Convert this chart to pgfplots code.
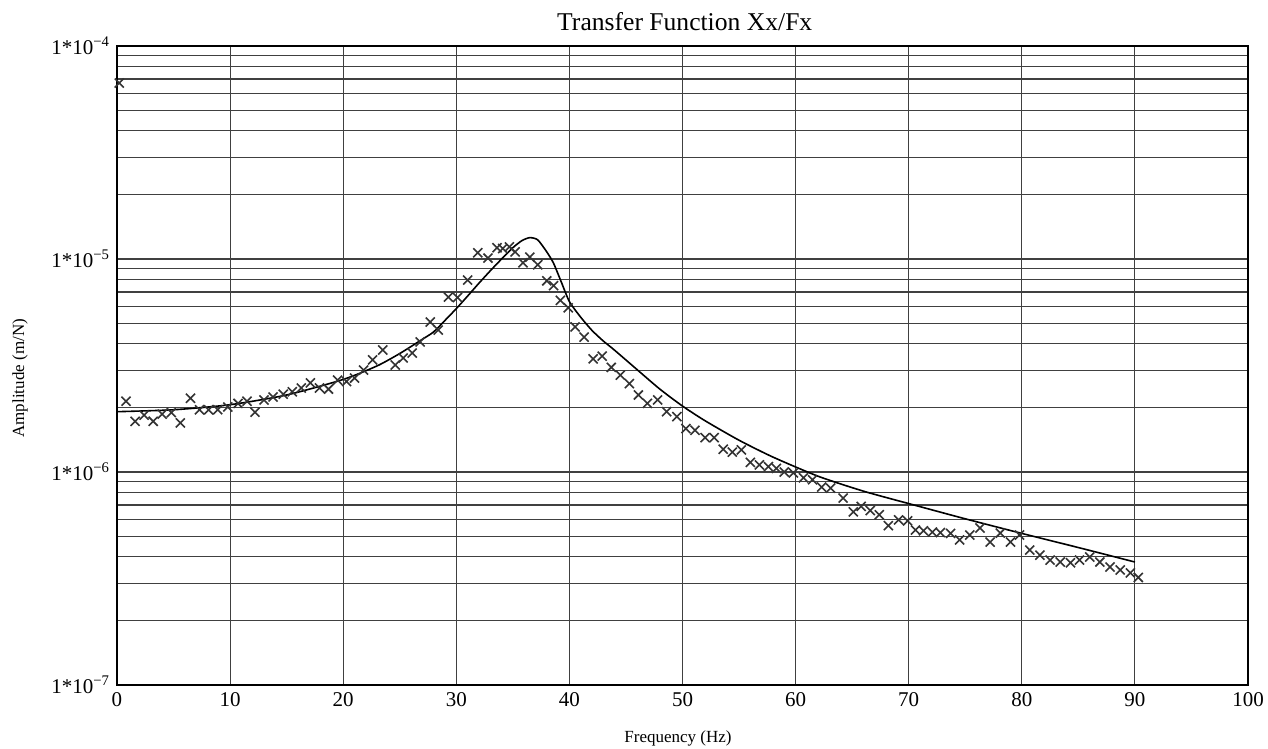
\documentclass[border=0pt]{standalone}
\usepackage{fontspec}
\setmainfont{Liberation Serif}
\usepackage{pgfplots}
\pgfplotsset{compat=1.18}
\begin{document}
\begin{tikzpicture}
\begin{axis}[
  scale only axis,
  width=565.5pt, height=319.5pt,
  xmin=0, xmax=100, ymode=log, ymin=1e-7, ymax=1e-4,
  xtick={0,10,...,100},
  ytick={1e-7,1e-6,1e-5,1e-4},
  yticklabels={1*10\textsuperscript{−7},1*10\textsuperscript{−6},1*10\textsuperscript{−5},1*10\textsuperscript{−4}},
  /pgf/number format/assume math mode=true,
  tick label style={font=\fontsize{10.5}{12}\selectfont},
  major tick length=0pt, minor tick length=0pt,
  xmajorgrids, ymajorgrids, yminorgrids,
  grid style={black!75, line width=0.55pt},
  minor grid style={black!75, line width=0.55pt},
  axis line style={black, line width=1pt},
  every axis title shift=0pt,
  title={Transfer Function Xx/Fx},
  title style={at={(axis description cs:0.502,1.0376)}, anchor=center, yshift=0pt, font=\fontsize{12.8}{14}\selectfont},
  xlabel={Frequency (Hz)},
  xlabel style={at={(axis description cs:0.496,-0.0829)}, anchor=center, font=\fontsize{8.5}{10}\selectfont},
  ylabel={Amplitude (m/N)},
  ylabel style={at={(axis description cs:-0.0858,0.48)}, anchor=center, rotate=0, font=\fontsize{8.5}{10}\selectfont},
]
\addplot[black, line width=0.8pt, smooth, tension=0.4] coordinates {
(0,1.92e-6) (5,1.96e-6) (10,2.07e-6) (15,2.30e-6) (20,2.72e-6) (23,3.15e-6)
(25,3.6e-6) (27,4.2e-6) (28,4.55e-6) (29,5.15e-6) (30,5.85e-6) (31,6.7e-6)
(32,7.7e-6) (33,8.8e-6) (34,1.0e-5) (35,1.13e-5) (35.8,1.22e-5) (36.5,1.26e-5)
(37.2,1.23e-5) (38,1.08e-5) (38.6,9.55e-6) (39.3,7.76e-6) (40,6.31e-6) (41,5.33e-6)
(42,4.62e-6) (43,4.12e-6) (44,3.73e-6) (46,3.02e-6) (48,2.45e-6) (50,2.04e-6)
(52,1.74e-6) (55,1.41e-6) (58,1.175e-6) (62,9.55e-7) (66,8.13e-7) (70,7.11e-7)
(75,6.03e-7) (80,5.15e-7) (85,4.42e-7) (90,3.78e-7)
};
\addplot[only marks, mark=x, mark size=3.2pt, black!80, mark options={line width=0.8pt}] coordinates {
(0.2,6.7e-5)
(0.8,2.15e-6) (1.6,1.73e-6) (2.4,1.85e-6) (3.2,1.73e-6) (4.0,1.87e-6) (4.8,1.90e-6)
(5.6,1.70e-6) (6.5,2.22e-6) (7.3,1.96e-6) (8.1,1.96e-6) (8.9,1.96e-6) (9.8,2.02e-6)
(10.7,2.10e-6) (11.5,2.15e-6) (12.2,1.91e-6) (13.0,2.18e-6) (13.8,2.25e-6) (14.7,2.32e-6)
(15.5,2.38e-6) (16.3,2.48e-6) (17.1,2.62e-6) (17.9,2.48e-6) (18.7,2.45e-6) (19.5,2.70e-6)
(20.3,2.66e-6) (21.0,2.76e-6) (21.8,3.01e-6) (22.6,3.36e-6) (23.5,3.74e-6) (24.6,3.18e-6)
(25.3,3.43e-6) (26.1,3.62e-6) (26.8,4.08e-6) (27.7,5.06e-6) (28.4,4.64e-6) (29.3,6.63e-6)
(30.1,6.6e-6) (31.0,7.97e-6) (31.9,1.07e-5) (32.8,1.01e-5) (33.6,1.13e-5) (34.1,1.12e-5)
(34.7,1.14e-5) (35.2,1.08e-5) (35.9,9.6e-6) (36.5,1.02e-5) (37.2,9.4e-6) (38.0,7.9e-6)
(38.6,7.5e-6) (39.2,6.4e-6) (39.9,5.9e-6) (40.5,4.8e-6) (41.3,4.3e-6) (42.1,3.4e-6)
(42.9,3.5e-6) (43.7,3.1e-6) (44.5,2.85e-6) (45.3,2.6e-6) (46.1,2.3e-6) (46.9,2.1e-6)
(47.8,2.18e-6) (48.6,1.92e-6) (49.5,1.82e-6) (50.3,1.60e-6) (51.1,1.57e-6) (52.0,1.45e-6)
(52.8,1.45e-6) (53.6,1.28e-6) (54.4,1.24e-6) (55.2,1.27e-6) (56.0,1.11e-6) (56.8,1.08e-6)
(57.6,1.06e-6) (58.3,1.04e-6) (59.0,1.0e-6) (59.8,9.9e-7) (60.7,9.4e-7) (61.5,9.2e-7)
(62.3,8.5e-7) (63.1,8.4e-7) (64.2,7.55e-7) (65.1,6.5e-7) (65.8,6.9e-7) (66.6,6.6e-7)
(67.4,6.3e-7) (68.2,5.6e-7) (69.1,5.96e-7) (69.9,5.9e-7) (70.6,5.34e-7) (71.3,5.3e-7)
(72.1,5.22e-7) (72.8,5.2e-7) (73.7,5.15e-7) (74.5,4.8e-7) (75.4,5.06e-7) (76.3,5.46e-7)
(77.2,4.69e-7) (78.1,5.17e-7) (79.0,4.69e-7) (79.8,5.06e-7) (80.7,4.3e-7) (81.6,4.07e-7)
(82.5,3.86e-7) (83.4,3.78e-7) (84.3,3.75e-7) (85.1,3.86e-7) (86.0,3.99e-7) (86.9,3.78e-7)
(87.8,3.58e-7) (88.7,3.47e-7) (89.6,3.36e-7) (90.3,3.2e-7)
};
\end{axis}
\pgfresetboundingbox
\useasboundingbox ([xshift=-58.5pt,yshift=-32pt]current axis.south west) rectangle ([xshift=10pt,yshift=23pt]current axis.north east);
\end{tikzpicture}
\end{document}
